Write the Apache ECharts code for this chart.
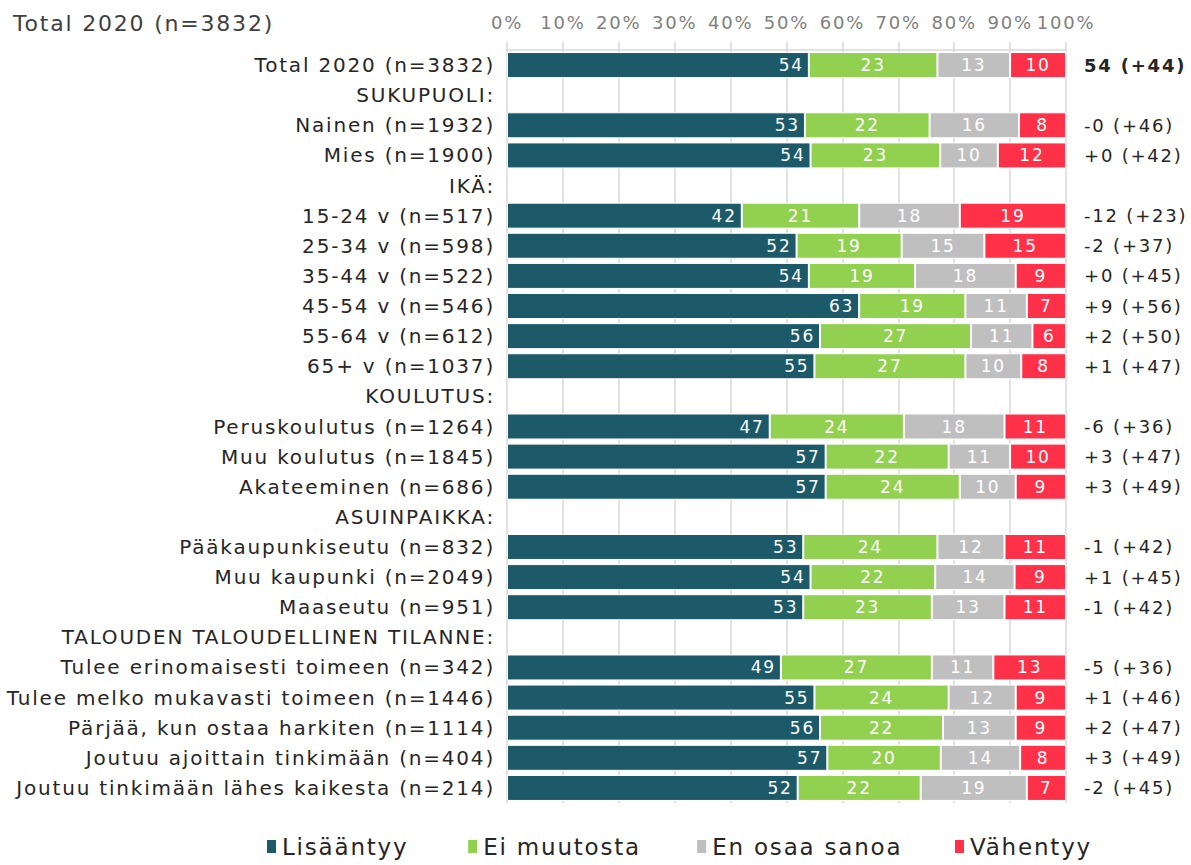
<!DOCTYPE html>
<html>
<head>
    <meta charset="utf-8">
    <title>Total 2020</title>
    <script src="https://cdn.jsdelivr.net/npm/echarts@6/dist/echarts.min.js"></script>
    <style>
        html, body { margin: 0; padding: 0; background: #fff; }
        #chart1 { width: 1191px; height: 865px; }
        /* alkuperäisessä tekstit ovat harvemmassa */
        #chart1 text { letter-spacing: 1.8px; }
    </style>
</head>
<body>
<!-- kaavion säiliö -->
<div id="chart1"></div>

<script>
    // rivit ylhäältä alas, otsikkorivit ilman palkkia
    var categories = [
        'Total 2020 (n=3832)',
        'SUKUPUOLI:',
        'Nainen (n=1932)',
        'Mies (n=1900)',
        'IKÄ:',
        '15-24 v (n=517)',
        '25-34 v (n=598)',
        '35-44 v (n=522)',
        '45-54 v (n=546)',
        '55-64 v (n=612)',
        '65+ v (n=1037)',
        'KOULUTUS:',
        'Peruskoulutus (n=1264)',
        'Muu koulutus (n=1845)',
        'Akateeminen (n=686)',
        'ASUINPAIKKA:',
        'Pääkaupunkiseutu (n=832)',
        'Muu kaupunki (n=2049)',
        'Maaseutu (n=951)',
        'TALOUDEN TALOUDELLINEN TILANNE:',
        'Tulee erinomaisesti toimeen (n=342)',
        'Tulee melko mukavasti toimeen (n=1446)',
        'Pärjää, kun ostaa harkiten (n=1114)',
        'Joutuu ajoittain tinkimään (n=404)',
        'Joutuu tinkimään lähes kaikesta (n=214)'
    ];

    var lisaantyy = [54, null, 53.3, 54.3, null, 42, 51.8, 54, 63, 56, 55, null, 47, 57, 57, null, 53, 54.3, 53, null, 49, 55, 56, 57.3, 52];
    var eiMuutosta = [23, null, 22.3, 23.2, null, 21, 18.8, 19, 19, 27, 27, null, 24, 22, 24, null, 24, 22.3, 23, null, 27, 24, 22, 20.3, 22];
    var enOsaa = [13, null, 16.0, 10.3, null, 18, 14.8, 18, 11, 11, 10, null, 18, 11, 10, null, 12, 14.2, 13, null, 11, 12, 13, 14.2, 19];
    var vahentyy = [10, null, 8.4, 12.2, null, 19, 14.6, 9, 7, 6, 8, null, 11, 10, 9, null, 11, 9.2, 11, null, 13, 9, 9, 8.2, 7];

    // oikean reunan saldo (muutos)
    var saldot = ['54 (+44)', '', '-0 (+46)', '+0 (+42)', '', '-12 (+23)', '-2 (+37)', '+0 (+45)', '+9 (+56)', '+2 (+50)', '+1 (+47)', '',
        '-6 (+36)', '+3 (+47)', '+3 (+49)', '', '-1 (+42)', '+1 (+45)', '-1 (+42)', '',
        '-5 (+36)', '+1 (+46)', '+2 (+47)', '+3 (+49)', '-2 (+45)'];

    var xTicks = [0, 10, 20, 30, 40, 50, 60, 70, 80, 90, 100];

    var fontName = '"DejaVu Sans", Verdana, sans-serif';

    function palkki(name, data, color, pos) {
        return {
            name: name,
            type: 'bar',
            stack: 'yht',
            data: data,
            barWidth: 26,
            itemStyle: {
                color: color,
                borderColor: '#ffffff',
                borderWidth: 1
            },
            label: {
                show: true,
                position: pos,
                color: '#ffffff',
                fontSize: 17,
                fontFamily: fontName,
                formatter: function (p) {
                    if (p.value == null) return '';
                    return Math.round(p.value);
                }
            }
        };
    }

    var myChart1 = echarts.init(document.getElementById('chart1'), null, {renderer: 'svg'});

    myChart1.setOption({
        animation: false,
        textStyle: { fontFamily: fontName },
        title: {
            text: 'Total 2020 (n=3832)',
            left: 8,
            top: 7,
            textStyle: {
                fontSize: 22,
                fontWeight: 'normal',
                color: '#404040',
                fontFamily: fontName
            }
        },
        legend: {
            bottom: 2,
            left: 260,
            itemWidth: 11,
            itemHeight: 15,
            itemGap: 74,
            icon: 'rect',
            textStyle: {
                fontSize: 23,
                color: '#262626',
                fontFamily: fontName
            },
            data: ['Lisääntyy', 'Ei muutosta', 'En osaa sanoa', 'Vähentyy']
        },
        grid: {
            left: 507,
            right: 125,
            top: 50,
            bottom: 62,
            containLabel: false
        },
        xAxis: {
            type: 'value',
            position: 'top',
            min: 0,
            max: 100,
            interval: 10,
            axisLine: { show: true, lineStyle: { color: '#d9d9d9', width: 1.5 } },
            axisTick: { show: true, length: 8, lineStyle: { color: '#d9d9d9', width: 1.5 } },
            splitLine: { show: true, lineStyle: { color: '#d9d9d9', width: 1.5 } },
            axisLabel: {
                margin: 19,
                fontSize: 18,
                color: '#7f7f7f',
                fontFamily: fontName,
                formatter: function (v) {
                    return xTicks.indexOf(v) >= 0 ? v + '%' : '';
                }
            }
        },
        yAxis: [{
            type: 'category',
            data: categories,
            inverse: true,
            axisLine: { show: false },
            axisTick: { show: false },
            axisLabel: {
                margin: 12,
                fontSize: 20,
                color: '#262626',
                fontFamily: fontName
            }
        }, {
            type: 'category',
            data: saldot,
            inverse: true,
            position: 'right',
            axisLine: { show: false },
            axisTick: { show: false },
            axisLabel: {
                margin: 18,
                fontSize: 18,
                color: '#262626',
                fontFamily: fontName,
                formatter: function (v, i) {
                    return i === 0 ? '{b|' + v + '}' : v;
                },
                rich: {
                    b: { fontSize: 18, fontWeight: 'bold', color: '#262626', fontFamily: fontName }
                }
            }
        }],
        series: [
            palkki('Lisääntyy', lisaantyy, '#1c5a69', 'insideRight'),
            palkki('Ei muutosta', eiMuutosta, '#92d050', 'inside'),
            palkki('En osaa sanoa', enOsaa, '#bfbfbf', 'inside'),
            palkki('Vähentyy', vahentyy, '#ff3148', 'inside')
        ]
    });
</script>
</body>
</html>
